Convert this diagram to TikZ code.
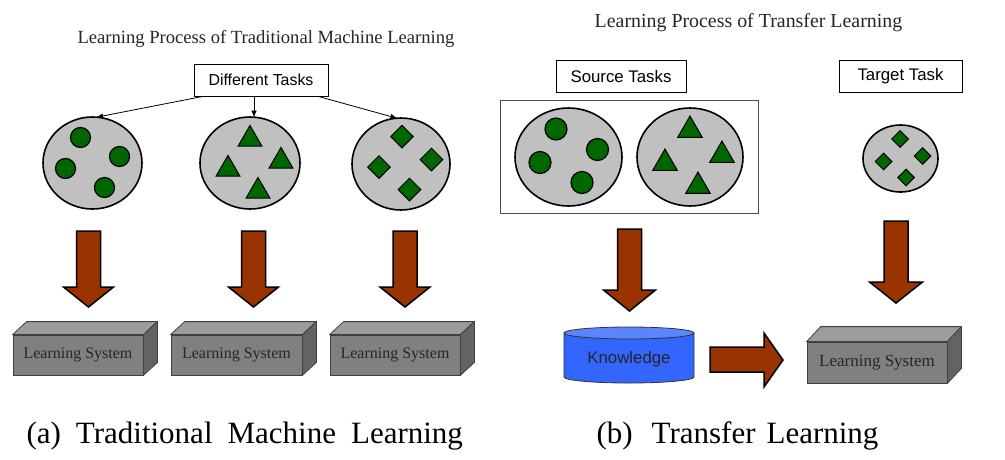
\documentclass[tikz,border=0pt]{standalone}
\usepackage{fontspec}
\setmainfont{Liberation Serif}
\newfontfamily\arialfont{Liberation Sans}
\usetikzlibrary{shapes.geometric,arrows.meta,calc}
\definecolor{tgreen}{HTML}{006600}
\definecolor{tgray}{HTML}{C0C0C0}
\definecolor{tbrown}{HTML}{993300}
\definecolor{kblue}{HTML}{3366FF}
\definecolor{kbluetop}{HTML}{5B85FF}
\definecolor{boxfront}{HTML}{808080}
\definecolor{boxtop}{HTML}{9C9C9C}
\definecolor{boxside}{HTML}{636363}
\newcommand\bigdown[5]{\draw[bigarrow] (#1-12,#2) -- (#1+12,#2) -- (#1+12,#3) -- (#1+#5,#3) -- (#1,#4) -- (#1-#5,#3) -- (#1-12,#3) -- cycle;}
\begin{document}
\begin{tikzpicture}[x=1pt,y=-1pt,
  task/.style={ellipse, draw=black, fill=tgray, line width=1.6pt, inner sep=0pt},
  dot/.style={circle, draw=black, fill=tgreen, line width=1.2pt, inner sep=0pt, minimum size=#1},
  tri/.style={regular polygon, regular polygon sides=3, draw=black, fill=tgreen, line width=1pt, inner sep=0pt, minimum size=#1},
  dia/.style={diamond, draw=black, fill=tgreen, line width=1pt, inner sep=0pt, minimum width=#1, minimum height=#1},
  tasklabel/.style={draw=black, line width=1pt, fill=white, inner sep=0pt, minimum height=32pt, font=\arialfont\fontsize{16.8}{18}\selectfont},
  bigarrow/.style={draw=black, fill=tbrown, line width=1.5pt, line join=miter},
  thinarrow/.style={-{Latex[length=6.5pt,width=5.5pt]}, line width=0.8pt},
  lsfront/.style={draw=black!75, fill=boxfront, line width=0.8pt, inner sep=0pt, text=black!85, font=\fontsize{16}{18}\selectfont},
  lsface/.style={draw=black!75, line width=0.8pt, line join=round},
  title/.style={anchor=base, font=\fontsize{18.6}{20}\selectfont, text=black!85},
  caption/.style={anchor=base west, font=\fontsize{31}{33}\selectfont},
]
\useasboundingbox (0,0) rectangle (1005,459);

% ---------- (a) Traditional Machine Learning ----------
\node[title] (t1) at (266,43) {Learning Process of Traditional Machine Learning};
\node[tasklabel, minimum width=134pt, font=\arialfont\fontsize{15.9}{18}\selectfont] (dt) at (261,80) {Different Tasks};

\node[task, minimum width=99pt, minimum height=92pt] (e1) at (92.5,163) {};
\node[task, minimum width=100pt, minimum height=92pt] (e2) at (250,163) {};
\node[task, minimum width=98pt, minimum height=92pt] (e3) at (401,164) {};

\draw[thinarrow] ([xshift=9pt]dt.south west) -- ([xshift=4pt,yshift=-1pt]e1.north);
\draw[thinarrow] ([xshift=-7pt]dt.south) -- ([xshift=4pt,yshift=-1pt]e2.north);
\draw[thinarrow] ([xshift=-10pt]dt.south east) -- ([xshift=-4pt,yshift=-1pt]e3.north);

\node[dot=20pt] (c11) at (80.5,137.5) {};
\node[dot=20pt] (c12) at (119.5,156.5) {};
\node[dot=20pt] (c13) at (65.5,168.5) {};
\node[dot=20pt] (c14) at (104.5,187.5) {};

\node[tri=27.7pt] (r11) at (250,139.3) {};
\node[tri=27.7pt] (r12) at (281,161.3) {};
\node[tri=27.7pt] (r13) at (228,169.3) {};
\node[tri=27.7pt] (r14) at (258,191.3) {};

\node[dia=23pt] (d11) at (402,136.5) {};
\node[dia=23pt] (d12) at (431.5,159.5) {};
\node[dia=23pt] (d13) at (379,167) {};
\node[dia=23pt] (d14) at (409.5,189.5) {};

\bigdown{88.5}{231}{287}{307}{25}
\bigdown{253.5}{231}{287}{307}{25}
\bigdown{405}{231}{287}{307}{25}

\node[lsfront, minimum width=130pt, minimum height=40pt] (ls1) at (78,355) {Learning System};
\node[lsfront, minimum width=131pt, minimum height=40pt] (ls2) at (236.5,355) {Learning System};
\node[lsfront, minimum width=130pt, minimum height=40pt] (ls3) at (395,355) {Learning System};
\foreach \b in {ls1,ls2,ls3}{
  \draw[lsface, fill=boxtop] (\b.north west) -- ++(14,-13) -- ($(\b.north east)+(14,-13)$) -- (\b.north east) -- cycle;
  \draw[lsface, fill=boxside] (\b.north east) -- ++(14,-13) -- ($(\b.south east)+(14,-13)$) -- (\b.south east) -- cycle;
}

\node[caption] (capa) at (23,443) {\spaceskip=15pt\relax (a) Traditional Machine Learning};

% ---------- (b) Transfer Learning ----------
\node[title, font=\fontsize{19.9}{22}\selectfont] (t2) at (748.5,27) {Learning Process of Transfer Learning};
\node[tasklabel, minimum width=130pt] (st) at (621,76) {Source Tasks};
\node[tasklabel, minimum width=123pt] (tt) at (900.5,76) {Target Task};

\node[draw=black!70, line width=0.8pt, inner sep=0pt, minimum width=258pt, minimum height=113pt] (src) at (629,156.5) {};
\node[task, minimum width=107pt, minimum height=98pt] (s1) at (568.5,157) {};
\node[task, minimum width=106pt, minimum height=98pt] (s2) at (690,157) {};
\node[task, minimum width=75pt, minimum height=67pt] (tg) at (900.5,158.5) {};

\node[dot=22pt] (c21) at (556,129) {};
\node[dot=22pt] (c22) at (597.5,149.5) {};
\node[dot=22pt] (c23) at (540,162.5) {};
\node[dot=22pt] (c24) at (582,182.5) {};

\node[tri=28.5pt] (r21) at (690,130.3) {};
\node[tri=28.5pt] (r22) at (722,155.3) {};
\node[tri=28.5pt] (r23) at (665,163.3) {};
\node[tri=28.5pt] (r24) at (698,186.3) {};

\node[dia=17pt] (d21) at (900,139) {};
\node[dia=17pt] (d22) at (922.5,156) {};
\node[dia=17pt] (d23) at (883.5,161.5) {};
\node[dia=17pt] (d24) at (906,177.5) {};

\bigdown{629.5}{229}{290}{311}{26}
\bigdown{896}{221}{282}{303}{26.5}

% Knowledge cylinder
\draw[draw=black!80, fill=kblue, line width=0.8pt] (564,333) -- (564,377) arc[start angle=180, end angle=360, x radius=65pt, y radius=6pt] -- (694,333) -- cycle;
\node[ellipse, draw=black!80, fill=kbluetop, line width=0.8pt, inner sep=0pt, minimum width=130pt, minimum height=12pt] (ktop) at (629,333) {};
\node[font=\arialfont\fontsize{16.8}{18}\selectfont, text=black!85] (kn) at (629,359) {Knowledge};

\draw[bigarrow] (710,347) -- (764,347) -- (764,333) -- (783,360) -- (764,387) -- (764,372) -- (710,372) -- cycle;

\node[lsfront, minimum width=140pt, minimum height=41pt, font=\fontsize{17}{19}\selectfont] (ls4) at (877,362.5) {Learning System};
\draw[lsface, fill=boxtop] (ls4.north west) -- ++(14,-15) -- ($(ls4.north east)+(14,-15)$) -- (ls4.north east) -- cycle;
\draw[lsface, fill=boxside] (ls4.north east) -- ++(14,-15) -- ($(ls4.south east)+(14,-15)$) -- (ls4.south east) -- cycle;

\node[caption] (capb) at (593,443) {\spaceskip=11pt\relax (b)\hspace{8pt} Transfer Learning};
\end{tikzpicture}
\end{document}
